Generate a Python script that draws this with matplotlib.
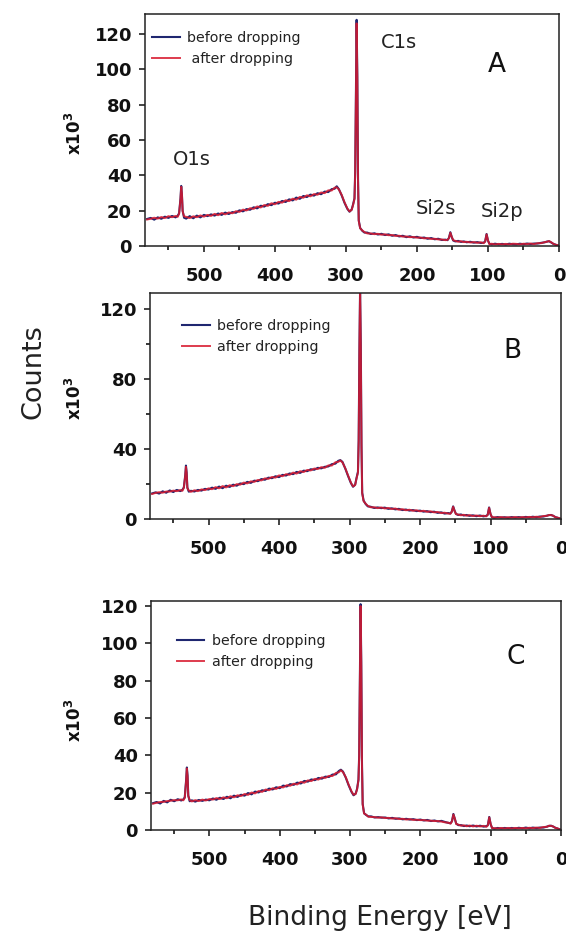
import matplotlib
matplotlib.use('Agg')
import matplotlib.pyplot as plt
from matplotlib.ticker import MultipleLocator

# binding energy grid (eV), shared by all panels
energy = [580, 575, 570, 565, 560, 555, 550, 545, 540, 537,
          535, 533, 532, 531, 530, 528, 525, 520, 515, 510,
          505, 500, 495, 490, 485, 480, 475, 470, 465, 460,
          455, 450, 445, 440, 435, 430, 425, 420, 415, 410,
          405, 400, 395, 390, 385, 380, 375, 370, 365, 360,
          355, 350, 345, 340, 335, 330, 325, 320, 316, 313,
          310, 306, 302, 298, 295, 292, 290, 288, 287, 286,
          285, 284, 283, 282, 280, 277, 274, 270, 265, 260,
          255, 250, 245, 240, 235, 230, 225, 220, 215, 210,
          205, 200, 195, 190, 185, 180, 175, 170, 165, 160,
          157, 155, 153, 151, 149, 146, 142, 138, 134, 130,
          125, 120, 115, 110, 106, 104, 102, 100, 98, 95,
          90, 85, 80, 75, 70, 65, 60, 55, 50, 45,
          40, 35, 30, 25, 20, 17, 14, 11, 8, 5,
          2, 0]

# counts x10^3
A_before = [15.3, 15.9, 14.9, 16.2, 15.4, 16.6, 15.9, 17.0, 16.2, 17.1,
            18.5, 27.0, 34.0, 29.0, 20.0, 16.0, 15.5, 16.9, 15.7, 17.2,
            16.2, 17.6, 16.9, 17.9, 17.2, 18.4, 17.6, 18.9, 18.1, 19.2,
            18.8, 20.2, 19.6, 20.9, 20.5, 21.9, 21.3, 22.8, 22.3, 23.7,
            23.1, 24.5, 24.0, 25.5, 24.9, 26.4, 25.8, 27.4, 26.7, 28.3,
            27.7, 29.1, 28.5, 29.9, 29.3, 30.8, 30.5, 32.2, 32.4, 33.8,
            32.2, 28.6, 24.4, 21.0, 19.4, 20.6, 23.5, 27.0, 42.0, 88.0,
            128.0, 96.0, 38.0, 14.5, 10.2, 8.6, 7.6, 7.6, 6.8, 7.2,
            6.5, 6.9, 6.2, 6.6, 5.8, 6.2, 5.4, 5.8, 5.0, 5.5,
            4.8, 5.2, 4.5, 4.8, 4.1, 4.5, 3.8, 4.1, 3.4, 3.6,
            3.3, 4.6, 7.8, 5.0, 3.1, 2.6, 2.9, 2.3, 2.6, 2.1,
            2.4, 1.9, 2.2, 1.7, 1.9, 2.6, 6.8, 3.0, 1.3, 0.9,
            1.3, 0.9, 1.2, 0.8, 1.3, 1.0, 0.9, 1.3, 1.0, 1.4,
            1.1, 1.4, 1.4, 1.8, 2.1, 2.5, 2.7, 2.0, 1.2, 0.8,
            0.4, 0.1]
A_after = [15.0, 15.4, 16.0, 15.5, 16.4, 15.8, 16.9, 16.3, 17.0, 16.5,
           18.2, 26.5, 33.5, 29.5, 19.6, 16.8, 16.5, 15.8, 16.8, 16.3,
           17.3, 16.6, 17.6, 17.0, 18.2, 17.4, 18.7, 17.9, 19.0, 18.5,
           19.7, 19.3, 20.6, 20.1, 21.4, 21.0, 22.4, 21.8, 23.2, 22.7,
           24.2, 23.6, 25.0, 24.5, 25.9, 25.4, 26.8, 26.2, 27.8, 27.3,
           28.7, 28.1, 29.4, 29.0, 30.3, 29.9, 31.5, 31.4, 33.0, 33.2,
           32.0, 28.9, 24.7, 21.2, 19.6, 20.4, 23.2, 26.6, 41.0, 86.0,
           126.0, 94.0, 37.0, 14.2, 10.0, 8.8, 7.9, 7.1, 7.1, 6.7,
           6.9, 6.4, 6.6, 6.1, 6.2, 5.7, 5.8, 5.3, 5.4, 5.0,
           5.1, 4.7, 4.8, 4.3, 4.5, 4.0, 4.1, 3.7, 3.7, 3.3,
           3.5, 4.4, 7.5, 5.2, 3.3, 2.9, 2.4, 2.7, 2.2, 2.4,
           2.0, 2.2, 1.8, 2.1, 1.6, 2.5, 6.6, 3.2, 1.0, 1.3,
           0.9, 1.2, 0.9, 1.2, 0.9, 1.3, 1.2, 0.9, 1.3, 1.1,
           1.4, 1.1, 1.6, 1.6, 2.2, 2.4, 2.8, 2.1, 1.3, 0.7,
           0.5, 0.1]

B_before = [14.6, 15.2, 14.5, 15.8, 15.0, 16.3, 15.4, 16.6, 15.9, 16.7,
            18.0, 25.0, 30.5, 26.5, 18.0, 15.6, 16.1, 15.7, 16.6, 16.2,
            17.2, 16.8, 17.9, 17.2, 18.5, 17.6, 19.0, 18.3, 19.6, 19.0,
            20.3, 19.9, 21.2, 20.6, 21.9, 21.6, 22.8, 22.4, 23.6, 23.3,
            24.4, 23.9, 25.2, 24.8, 26.0, 25.6, 26.9, 26.3, 27.6, 27.3,
            28.4, 28.1, 29.2, 28.9, 29.8, 30.0, 31.3, 31.6, 33.2, 33.6,
            32.6, 28.8, 24.5, 20.5, 18.4, 19.6, 23.5, 27.0, 45.0, 95.0,
            131.0, 100.0, 42.0, 15.0, 10.5, 8.5, 7.2, 7.0, 6.3, 6.6,
            6.2, 6.5, 5.8, 6.1, 5.5, 5.8, 5.1, 5.4, 4.8, 5.1,
            4.5, 4.8, 4.2, 4.5, 3.9, 4.2, 3.5, 3.8, 3.1, 3.4,
            3.1, 4.2, 7.2, 4.8, 2.9, 2.3, 2.6, 2.0, 2.3, 1.8,
            2.1, 1.6, 2.0, 1.5, 1.8, 2.4, 6.6, 2.8, 1.0, 0.7,
            1.1, 0.8, 1.0, 0.7, 1.1, 0.8, 1.1, 0.8, 1.2, 0.9,
            1.3, 1.0, 1.4, 1.4, 1.9, 2.2, 2.3, 1.8, 1.1, 0.7,
            0.3, 0.1]
B_after = [14.3, 14.9, 15.3, 15.0, 15.7, 15.6, 16.2, 15.9, 16.5, 16.1,
           17.8, 24.5, 29.8, 26.0, 17.6, 16.3, 15.5, 16.4, 15.9, 16.9,
           16.5, 17.5, 17.0, 18.2, 17.5, 18.8, 18.0, 19.3, 18.7, 19.9,
           19.6, 20.8, 20.3, 21.5, 21.2, 22.3, 22.0, 23.2, 22.9, 24.0,
           23.6, 24.9, 24.4, 25.6, 25.2, 26.5, 25.9, 27.3, 26.8, 28.0,
           27.7, 28.8, 28.5, 29.6, 29.2, 30.6, 30.5, 32.4, 32.6, 33.4,
           32.3, 29.0, 24.8, 20.8, 18.6, 19.4, 23.2, 26.5, 44.0, 93.0,
           131.0, 98.0, 41.0, 14.6, 10.2, 8.7, 7.5, 6.7, 6.7, 6.2,
           6.6, 6.0, 6.3, 5.7, 6.0, 5.3, 5.6, 5.0, 5.3, 4.7,
           5.0, 4.4, 4.7, 4.1, 4.4, 3.8, 4.0, 3.4, 3.6, 3.1,
           3.0, 4.0, 7.0, 4.6, 2.8, 2.6, 2.1, 2.4, 1.9, 2.2,
           1.7, 2.0, 1.6, 1.9, 1.5, 2.3, 6.4, 2.9, 1.1, 1.0,
           0.8, 1.1, 0.8, 1.0, 0.8, 1.1, 0.8, 1.1, 0.9, 1.2,
           1.0, 1.3, 1.1, 1.7, 1.8, 2.3, 2.2, 1.9, 1.0, 0.8,
           0.4, 0.1]

C_before = [14.4, 15.0, 14.2, 15.6, 14.8, 16.2, 15.4, 16.5, 15.8, 16.4,
            17.5, 27.0, 33.5, 29.0, 18.5, 15.4, 15.9, 15.2, 16.1, 15.6,
            16.3, 15.9, 16.9, 16.2, 17.3, 16.6, 17.8, 17.0, 18.4, 17.7,
            18.9, 18.4, 19.8, 19.1, 20.6, 20.1, 21.3, 20.9, 22.2, 21.7,
            22.9, 22.4, 23.8, 23.3, 24.6, 24.2, 25.4, 24.9, 26.3, 25.9,
            27.1, 26.7, 27.9, 27.5, 28.6, 28.4, 29.7, 29.8, 31.6, 32.3,
            31.3, 28.0, 24.0, 20.5, 18.6, 19.5, 22.0, 27.0, 40.0, 82.0,
            121.0, 90.0, 36.0, 14.0, 9.0, 8.0, 7.3, 7.3, 6.7, 6.9,
            6.6, 6.7, 6.2, 6.5, 6.0, 6.2, 5.7, 6.0, 5.6, 5.8,
            5.3, 5.6, 5.1, 5.4, 4.8, 5.1, 4.6, 4.9, 4.3, 3.8,
            3.6, 4.8, 8.6, 6.0, 3.4, 2.6, 2.6, 2.1, 2.4, 2.0,
            2.4, 1.9, 2.3, 1.8, 2.1, 2.6, 7.0, 3.0, 1.1, 0.7,
            1.1, 0.8, 1.1, 0.8, 1.1, 0.8, 1.2, 0.9, 1.3, 0.9,
            1.3, 1.0, 1.3, 1.3, 1.8, 2.2, 2.3, 1.8, 1.2, 0.8,
            0.4, 0.1]
C_after = [14.1, 14.6, 15.0, 15.1, 15.5, 15.7, 16.0, 15.9, 16.4, 15.9,
           17.2, 26.5, 33.0, 28.5, 18.2, 16.0, 15.3, 16.0, 15.5, 16.3,
           15.8, 16.6, 16.3, 17.1, 16.6, 17.5, 17.0, 18.1, 17.5, 18.6,
           18.2, 19.3, 18.8, 20.1, 19.6, 20.9, 20.4, 21.7, 21.3, 22.4,
           22.0, 23.1, 22.8, 24.0, 23.7, 24.8, 24.4, 25.8, 25.3, 26.6,
           26.2, 27.4, 27.0, 28.2, 27.9, 29.0, 28.9, 30.6, 30.9, 32.0,
           31.0, 28.3, 24.3, 20.8, 18.9, 19.3, 21.7, 26.6, 39.0, 80.0,
           120.0, 88.0, 35.0, 13.6, 8.8, 8.2, 7.1, 7.0, 6.9, 6.6,
           6.8, 6.4, 6.5, 6.1, 6.3, 5.9, 6.0, 5.6, 5.8, 5.4,
           5.5, 5.3, 5.3, 5.0, 5.0, 4.8, 4.8, 4.5, 4.1, 3.9,
           3.4, 4.6, 8.3, 6.2, 3.2, 2.9, 2.3, 2.5, 2.0, 2.4,
           1.9, 2.3, 1.9, 2.2, 1.7, 2.5, 6.8, 3.2, 1.0, 1.0,
           0.8, 1.1, 0.8, 1.1, 0.8, 1.1, 0.9, 1.1, 0.9, 1.2,
           1.0, 1.3, 1.1, 1.6, 1.7, 2.3, 2.2, 1.9, 1.1, 0.9,
           0.3, 0.1]

series_labels = ['before dropping', 'after dropping']
panel_letters = ['A', 'B', 'C']

before_col = '#1f2770'
after_col = '#d8192e'
text_col = '#222222'

fig = plt.figure(figsize=(5.66, 9.36), dpi=100)
W, H = 566.0, 936.0


def pixel_axes(left, top, right, bottom):
    return fig.add_axes([left / W, 1 - bottom / H, (right - left) / W, (bottom - top) / H])


def setup(ax, ytop, ymajor, yminor=None):
    ax.set_xlim(583, 0)
    ax.set_ylim(0, ytop)
    ax.xaxis.set_major_locator(MultipleLocator(100))
    ax.set_xticks([550, 450, 350, 250, 150, 50], minor=True)
    ax.yaxis.set_major_locator(MultipleLocator(ymajor))
    if yminor:
        ax.yaxis.set_minor_locator(MultipleLocator(yminor))
    ax.tick_params(axis='both', which='major', direction='out', length=4.3, width=1.1,
                   labelsize=13, colors='#111111')
    ax.tick_params(axis='both', which='minor', direction='out', length=3.2, width=1.1)
    ax.tick_params(axis='x', which='major', pad=10.5)
    ax.tick_params(axis='y', which='major', pad=5)
    for lab in ax.get_xticklabels() + ax.get_yticklabels():
        lab.set_fontweight('bold')
    for sp in ax.spines.values():
        sp.set_linewidth(1.1)
        sp.set_color('#222222')


def draw(ax, before, after, labels, leg_xy):
    ax.plot(energy, before, color=before_col, lw=1.5, label=labels[0])
    ax.plot(energy, after, color=after_col, lw=1.4, alpha=0.85, label=labels[1])
    leg = ax.legend(loc='upper left', bbox_to_anchor=leg_xy, frameon=False, fontsize=10.2,
                    borderpad=0, borderaxespad=0, handlelength=1.95, handletextpad=0.55,
                    labelspacing=0.53)
    for t in leg.get_texts():
        t.set_color(text_col)
    return leg


# panel A
axA = pixel_axes(145, 14, 559, 246)
setup(axA, 131.3, 20)
draw(axA, A_before, A_after, ['before dropping', ' after dropping'], (0.017, 0.927))
axA.text(226, 115.4, 'C1s', fontsize=14, color=text_col, ha='center', va='center')
axA.text(517, 49, 'O1s', fontsize=14, color=text_col, ha='center', va='center')
axA.text(173, 21, 'Si2s', fontsize=14, color=text_col, ha='center', va='center')
axA.text(80, 19.5, 'Si2p', fontsize=14, color=text_col, ha='center', va='center')
axA.text(87, 102.7, panel_letters[0], fontsize=19, color='#111111', ha='center', va='center')

# panel B
axB = pixel_axes(150, 293, 561, 519)
setup(axB, 129, 40, 20)
draw(axB, B_before, B_after, series_labels, (0.078, 0.887))
axB.text(69, 96, panel_letters[1], fontsize=19, color='#111111', ha='center', va='center')

# panel C
axC = pixel_axes(151, 601, 561, 830)
setup(axC, 122.7, 20)
draw(axC, C_before, C_after, series_labels, (0.063, 0.857))
axC.text(65, 92.7, panel_letters[2], fontsize=19, color='#111111', ha='center', va='center')

# axis labels
for yc in [133, 398, 720]:
    fig.text(75 / W, 1 - yc / H, r'x10$^\mathbf{3}$', rotation=90, fontsize=12, fontweight='bold',
             ha='center', va='center', color='#111111')
fig.text(34 / W, 1 - 372 / H, 'Counts', rotation=90, fontsize=19.5, ha='center', va='center',
         color=text_col)
fig.text(380 / W, 1 - 918 / H, 'Binding Energy [eV]', fontsize=19, ha='center', va='center',
         color=text_col)

fig.savefig('out.png', dpi=100)
